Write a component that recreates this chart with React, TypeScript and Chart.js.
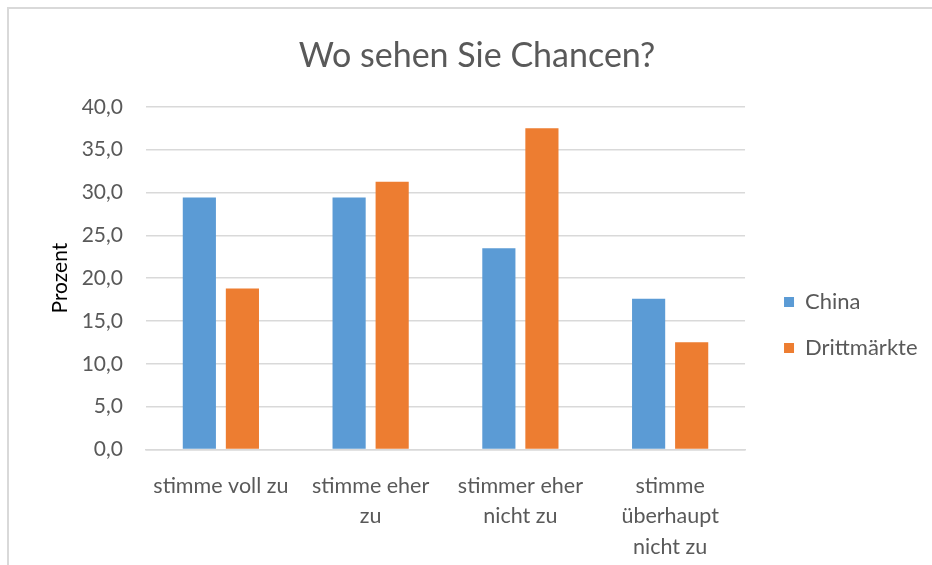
import React, { useEffect, useRef } from "react";
import { Chart, registerables } from "chart.js";

Chart.register(...registerables);

const chartTitle = "Wo sehen Sie Chancen?";
const yAxisTitle = "Prozent";
const categories: (string | string[])[] = [
  "stimme voll zu",
  ["stimme eher", "zu"],
  ["stimmer eher", "nicht zu"],
  ["stimme", "überhaupt", "nicht zu"],
];
const seriesNames = ["China", "Drittmärkte"];
const chinaValues = [29.4, 29.4, 23.5, 17.6];
const drittValues = [18.8, 31.25, 37.5, 12.5];
const yMin = 0;
const yMax = 40;
const yStep = 5;

const FONT = "Lato, 'Open Sans', sans-serif";
const TEXT = "#595959";
const GRID = "#d9d9d9";

// moves the legend a little away from the plot area, as in the original
const legendShift = {
  id: "legendShift",
  afterLayout(chart: any) {
    const lg = chart.legend;
    if (lg) {
      lg.left += 15;
      lg.right += 15;
    }
  },
};

export default function App() {
  const ref = useRef<HTMLCanvasElement | null>(null);

  useEffect(() => {
    if (!ref.current) return;
    const chart = new Chart(ref.current, {
      type: "bar",
      plugins: [legendShift],
      data: {
        labels: categories,
        datasets: [
          {
            label: seriesNames[0],
            data: chinaValues,
            backgroundColor: "#5B9BD5",
            categoryPercentage: 0.575,
            barPercentage: 0.77,
          },
          {
            label: seriesNames[1],
            data: drittValues,
            backgroundColor: "#ED7D31",
            categoryPercentage: 0.575,
            barPercentage: 0.77,
          },
        ],
      },
      options: {
        responsive: false,
        animation: false,
        maintainAspectRatio: false,
        layout: { padding: { left: 41.5, right: 19.5, top: 0, bottom: -18 } },
        plugins: {
          tooltip: { enabled: false },
          title: {
            display: true,
            text: chartTitle,
            color: TEXT,
            font: { family: FONT, size: 34, weight: "normal" },
            padding: { top: 36, bottom: 30 },
          },
          legend: {
            display: true,
            position: "right",
            fullSize: false,
            title: {
              display: true,
              text: " ",
              font: { family: FONT, size: 10 },
              padding: { top: 40, bottom: 42 },
            },
            labels: {
              boxWidth: 10,
              boxHeight: 10,
              padding: 24,
              color: TEXT,
              font: { family: FONT, size: 22 },
            },
          },
        },
        scales: {
          x: {
            grid: { display: false, drawTicks: false },
            border: { display: true, color: GRID, width: 1.5 },
            ticks: {
              color: TEXT,
              font: { family: FONT, size: 21.5, lineHeight: 1.42 },
              padding: 21,
              maxRotation: 0,
              minRotation: 0,
              autoSkip: false,
            },
          },
          y: {
            min: yMin,
            max: yMax,
            grid: { color: GRID, lineWidth: 1.5, drawTicks: false },
            border: { display: false },
            ticks: {
              stepSize: yStep,
              color: TEXT,
              padding: 23,
              font: { family: FONT, size: 21 },
              callback: (v: any) => Number(v).toFixed(1).replace(".", ","),
            },
            title: {
              display: true,
              text: yAxisTitle,
              color: "#000",
              font: { family: FONT, size: 21 },
              padding: { top: 6, bottom: 0 },
            },
            afterFit: (s: any) => {
              s.width = 104.5;
            },
          },
        },
      },
    });
    return () => chart.destroy();
  }, []);

  return (
    <div
      style={{
        position: "absolute",
        left: 0,
        top: 0,
        width: 932,
        height: 565,
        overflow: "hidden",
        background: "#fff",
      }}
    >
      <div
        style={{
          position: "absolute",
          left: 7,
          top: 7,
          width: 1000,
          height: 700,
          borderLeft: "2px solid #d9d9d9",
          borderTop: "2px solid #d9d9d9",
        }}
      />
      <canvas
        ref={ref}
        width={932}
        height={565}
        style={{ position: "absolute", left: 0, top: 0, width: 932, height: 565 }}
      />
    </div>
  );
}
